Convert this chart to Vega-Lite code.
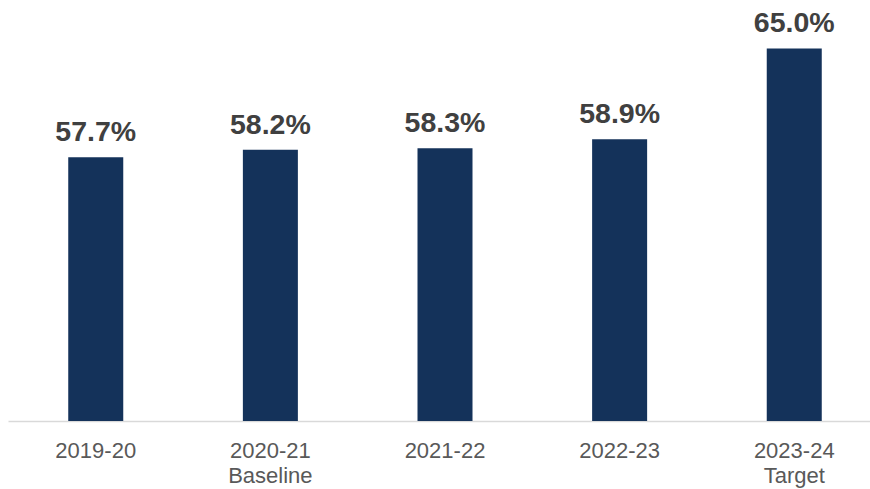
{
  "$schema": "https://vega.github.io/schema/vega-lite/v6.json",
  "width": 862,
  "height": 421,
  "autosize": "none",
  "padding": {"left": 8, "top": 0, "right": 0, "bottom": 68},
  "background": "white",
  "config": {"view": {"stroke": null}, "font": "Liberation Sans"},
  "data": {
    "values": [
      {"year": "2019-20", "value": 57.7},
      {"year": "2020-21 Baseline", "value": 58.2},
      {"year": "2021-22", "value": 58.3},
      {"year": "2022-23", "value": 58.9},
      {"year": "2023-24 Target", "value": 65.0}
    ]
  },
  "transform": [{"calculate": "format(datum.value, '.1f') + '%'", "as": "lbl"}],
  "encoding": {
    "x": {
      "field": "year",
      "type": "nominal",
      "sort": null,
      "scale": {"paddingInner": 0.685, "paddingOuter": 0.345, "range": [0, 874]},
      "axis": {
        "title": null,
        "labelAngle": 0,
        "labelExpr": "split(datum.label, ' ')",
        "labelFont": "Liberation Sans",
        "labelFontSize": 22,
        "labelColor": "#595959",
        "labelLineHeight": 25,
        "labelPadding": 19,
        "ticks": false,
        "domainColor": "#d9d9d9",
        "domainWidth": 1.5,
        "grid": false
      }
    },
    "y": {
      "field": "value",
      "type": "quantitative",
      "scale": {"domain": [40, 68.25], "zero": false, "nice": false},
      "axis": null
    }
  },
  "layer": [
    {"mark": {"type": "bar", "color": "#14325A"}, "encoding": {"y2": {"datum": 40}}},
    {
      "mark": {
        "type": "text",
        "baseline": "alphabetic",
        "dy": -16,
        "fontSize": 28.5,
        "fontWeight": "bold",
        "color": "#404040",
        "font": "Liberation Sans"
      },
      "encoding": {"text": {"field": "lbl"}}
    }
  ]
}
